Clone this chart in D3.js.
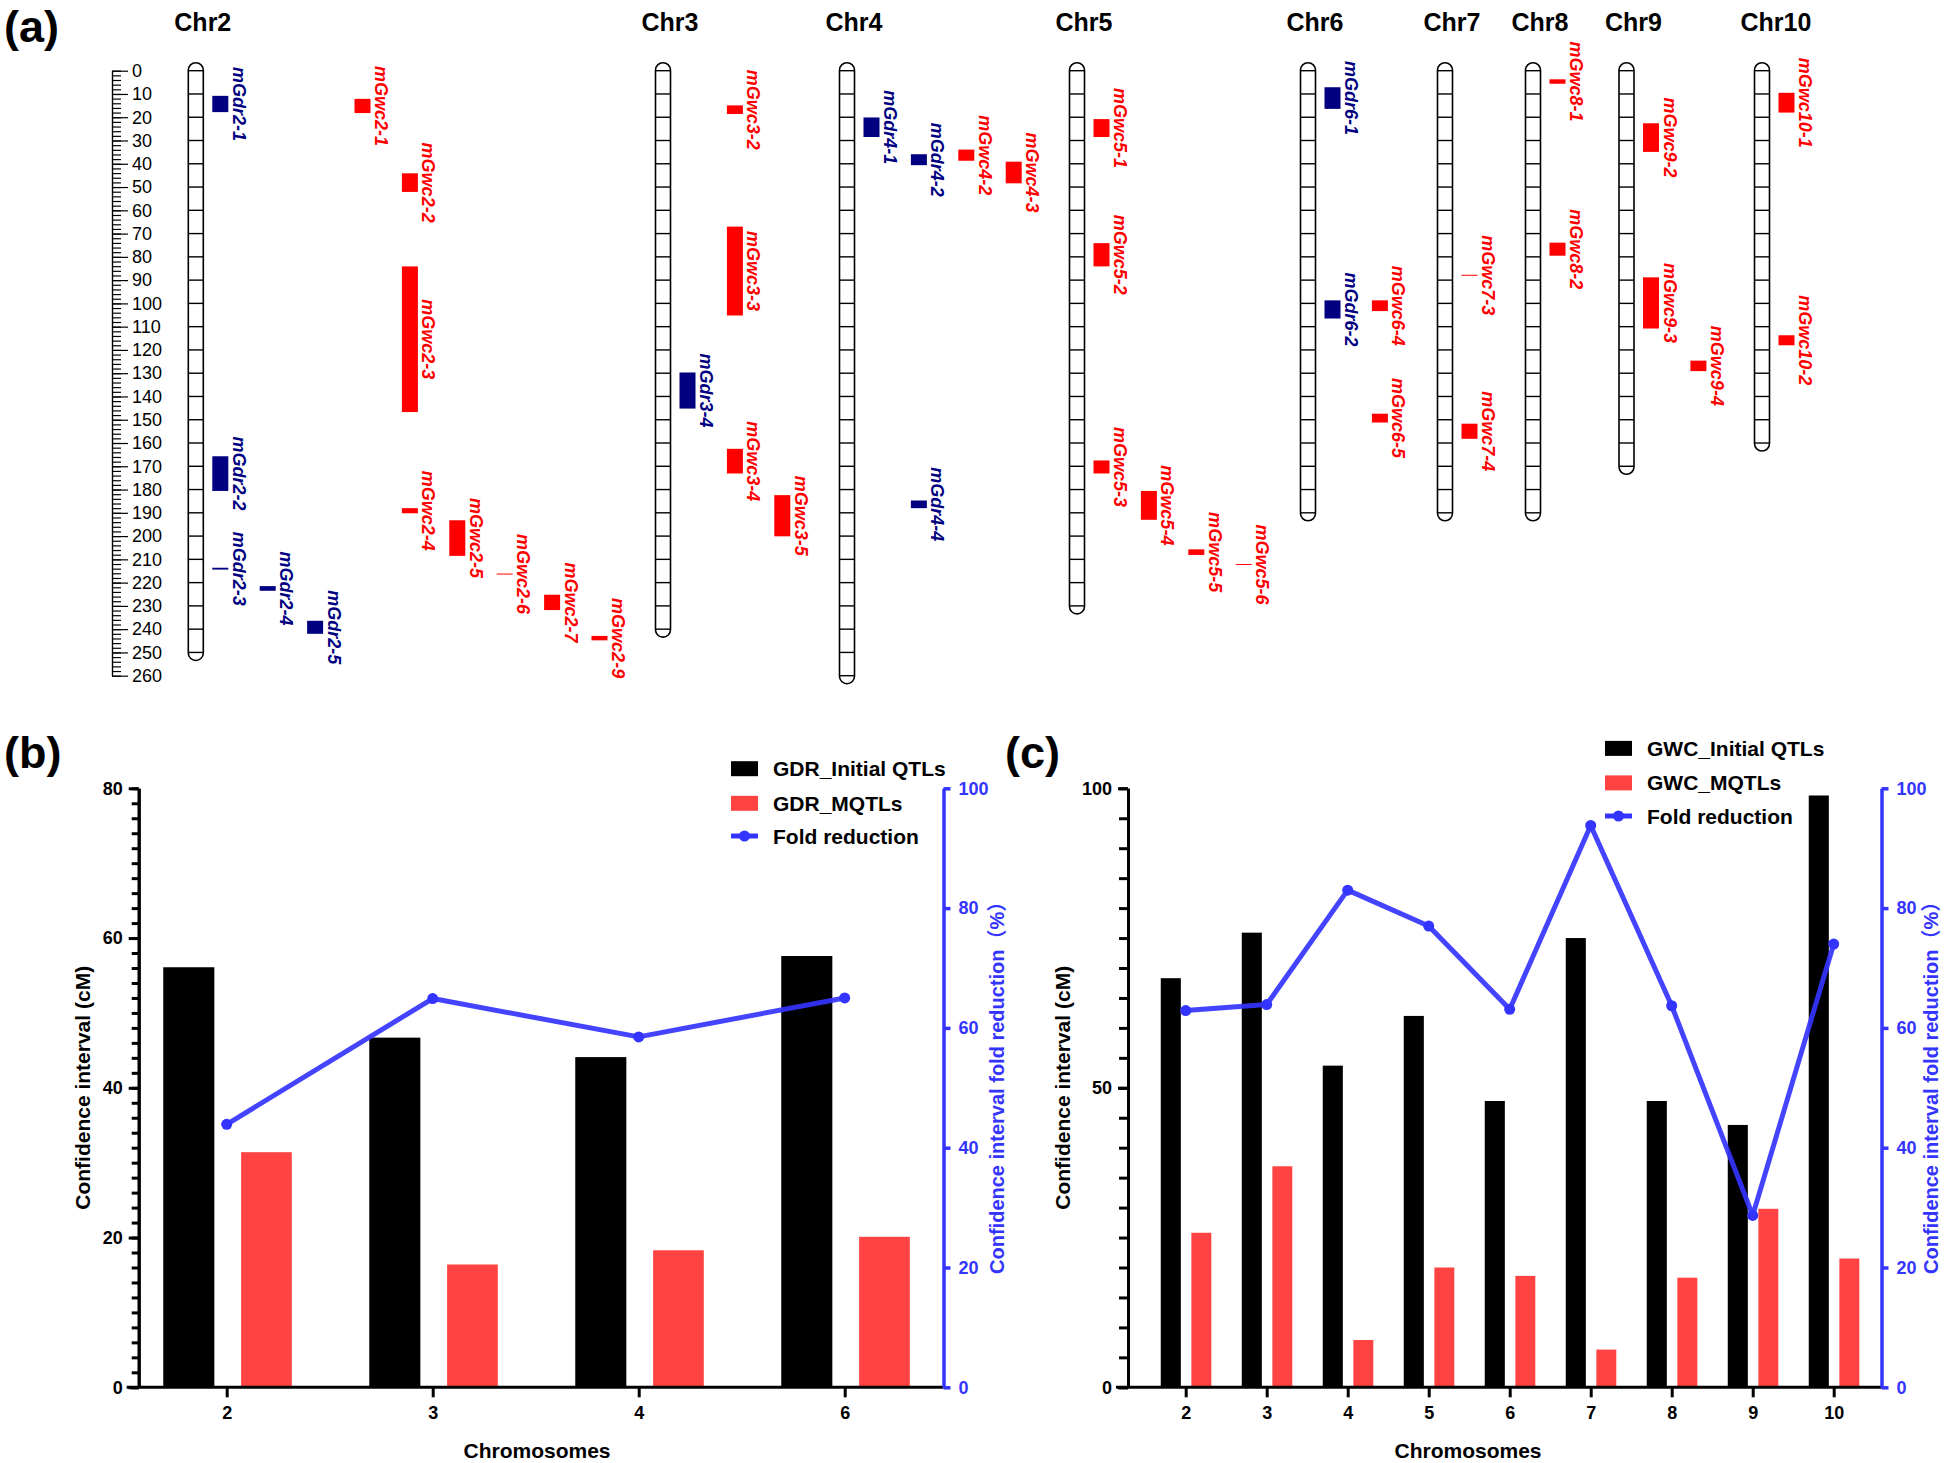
<!DOCTYPE html>
<html>
<head>
<meta charset="utf-8">
<script src="https://d3js.org/d3.v7.min.js"></script>
<style>
  body { margin: 0; background: #fff; }
  text { font-family: "Liberation Sans", Arial, "Noto Sans CJK SC", sans-serif; }
</style>
</head>
<body>
<svg id="fig"></svg>
<script>
// ---------- panel (a): chromosomes and MQTL intervals (cM) ----------
var chrNames   = ["Chr2", "Chr3", "Chr4", "Chr5", "Chr6", "Chr7", "Chr8", "Chr9", "Chr10"];
var chrLengths = [250, 240, 260, 230, 190, 190, 190, 170, 160];

var qtlNames = ["mGdr2-1", "mGdr2-2", "mGdr2-3", "mGdr2-4", "mGdr2-5",
                "mGwc2-1", "mGwc2-2", "mGwc2-3", "mGwc2-4", "mGwc2-5", "mGwc2-6", "mGwc2-7", "mGwc2-9",
                "mGwc3-2", "mGwc3-3", "mGdr3-4", "mGwc3-4", "mGwc3-5",
                "mGdr4-1", "mGdr4-2", "mGwc4-2", "mGwc4-3", "mGdr4-4",
                "mGwc5-1", "mGwc5-2", "mGwc5-3", "mGwc5-4", "mGwc5-5", "mGwc5-6",
                "mGdr6-1", "mGdr6-2", "mGwc6-4", "mGwc6-5",
                "mGwc7-3", "mGwc7-4",
                "mGwc8-1", "mGwc8-2",
                "mGwc9-2", "mGwc9-3", "mGwc9-4",
                "mGwc10-1", "mGwc10-2"];
var qtlStart = [10.8, 165.7, 213.6, 221.5, 236.4,
                12.1, 44.1, 84.1, 188.0, 193.2, 216.1, 225.2, 242.9,
                14.9, 67.0, 129.7, 162.5, 182.4,
                20.1, 35.9, 33.9, 39.1, 184.7,
                20.8, 74.1, 167.5, 180.6, 205.7, 212.0,
                7.1, 98.7, 98.7, 147.4,
                87.7, 151.7,
                3.7, 73.9,
                22.6, 88.8, 124.6,
                9.5, 113.7];
var qtlEnd   = [17.8, 180.6, 214.4, 223.5, 242.0,
                18.2, 52.1, 146.7, 190.2, 208.5, 216.5, 231.8, 244.8,
                18.6, 105.2, 145.2, 173.1, 200.1,
                28.5, 40.6, 38.7, 48.4, 188.0,
                28.5, 84.1, 173.1, 193.0, 208.1, 212.4,
                16.4, 106.5, 103.3, 151.2,
                88.1, 158.2,
                5.6, 79.5,
                34.9, 110.8, 129.1,
                18.0, 118.0];

// layout: column (lane) each interval is drawn in, right of its chromosome
var qtlLane = [0, 0, 0, 1, 2,
               3, 4, 4, 4, 5, 6, 7, 8,
               1, 1, 0, 1, 2,
               0, 1, 2, 3, 1,
               0, 0, 0, 1, 2, 3,
               0, 0, 1, 1,
               0, 0,
               0, 0,
               0, 0, 1,
               0, 0];
var chrX = [195.8, 663, 847, 1077, 1308, 1445, 1533, 1626.5, 1762];

// ---------- panel (b): GDR ----------
var gdrChr     = ["2", "3", "4", "6"];
var gdrInitial = [56.1, 46.7, 44.1, 57.6];
var gdrMqtl    = [31.4, 16.4, 18.3, 20.1];
var gdrFold    = [43.9, 64.9, 58.5, 65.0];

// ---------- panel (c): GWC ----------
var gwcChr     = ["2", "3", "4", "5", "6", "7", "8", "9", "10"];
var gwcInitial = [68.3, 75.9, 53.7, 62.0, 47.8, 75.0, 47.8, 43.8, 98.8];
var gwcMqtl    = [25.8, 36.9, 7.9, 20.0, 18.6, 6.3, 18.3, 29.8, 21.5];
var gwcFold    = [62.9, 63.9, 83.0, 77.0, 63.1, 93.8, 63.7, 28.7, 74.0];

var RED = "#ff4242", BLUE = "#3434ff", NAVY = "#000080", QRED = "#ff0000";

var svg = d3.select("#fig").attr("width", 1944).attr("height", 1463);
svg.append("rect").attr("width", 1944).attr("height", 1463).attr("fill", "#fff");

// panel letters
[["(a)", 4, 42], ["(b)", 4, 768], ["(c)", 1005, 768]].forEach(function (p) {
    svg.append("text").attr("x", p[1]).attr("y", p[2]).text(p[0])
        .attr("font-size", 45).attr("font-weight", "bold");
});

// ================= panel (a) =================
var yA = d3.scaleLinear().domain([0, 260]).range([70.7, 675.7]);
var pa = svg.append("g");

// ruler
pa.append("g").attr("transform", "translate(112,0)")
    .call(d3.axisRight(yA).tickValues(d3.range(0, 261, 2)).tickSize(9).tickFormat("").tickSizeOuter(0))
    .call(function (g) { g.selectAll("line,path").attr("stroke", "#000").attr("stroke-width", 1.2); });
pa.append("g").attr("transform", "translate(112,0)")
    .call(d3.axisRight(yA).tickValues(d3.range(0, 261, 10)).tickSize(16).tickPadding(4).tickSizeOuter(0))
    .call(function (g) {
        g.selectAll("line,path").attr("stroke", "#000").attr("stroke-width", 1.2);
        g.selectAll("text").attr("font-size", 18).attr("fill", "#000")
            .attr("font-family", "'Liberation Sans', Arial, sans-serif");
    });

// chromosomes
chrNames.forEach(function (name, i) {
    var g = pa.append("g").attr("transform", "translate(" + chrX[i] + ",0)");
    var L = chrLengths[i];
    g.append("text").attr("x", -21.5).attr("y", 31).text(name)
        .attr("font-size", 25).attr("font-weight", "bold");
    g.append("rect").attr("x", -7.5).attr("width", 15)
        .attr("y", yA(0) - 8).attr("height", yA(L) - yA(0) + 16)
        .attr("rx", 7.5).attr("ry", 7.5)
        .attr("fill", "#fff").attr("stroke", "#000").attr("stroke-width", 1.6);
    g.selectAll("line.seg").data(d3.range(0, L + 1, 10)).enter().append("line")
        .attr("x1", -7.5).attr("x2", 7.5)
        .attr("y1", function (d) { return yA(d); }).attr("y2", function (d) { return yA(d); })
        .attr("stroke", "#000").attr("stroke-width", 1.4);
});

// MQTL intervals
qtlNames.forEach(function (name, i) {
    var chr = "Chr" + name.replace(/^mG(dr|wc)/, "").split("-")[0];
    var ci = chrNames.indexOf(chr);
    var col = /^mGdr/.test(name) ? NAVY : QRED;
    var x = chrX[ci] + 16.5 + 47.4 * qtlLane[i];
    var y1 = yA(qtlStart[i]), y2 = yA(qtlEnd[i]);
    pa.append("rect").attr("x", x).attr("width", 16)
        .attr("y", y1).attr("height", Math.max(y2 - y1, 1))
        .attr("fill", col);
    pa.append("text")
        .attr("transform", "translate(" + (x + 20.5) + "," + ((y1 + y2) / 2) + ") rotate(90)")
        .attr("text-anchor", "middle")
        .attr("font-size", 18).attr("font-weight", "bold").attr("font-style", "italic")
        .attr("fill", col).text(name);
});

// ================= panels (b) and (c) =================
function comboChart(cfg) {
    var g = svg.append("g");
    var x = d3.scalePoint().domain(cfg.cats).range([cfg.firstTick, cfg.lastTick]);
    var s = x.step();
    var yL = d3.scaleLinear().domain([0, cfg.leftMax]).range([cfg.y0, cfg.yTop]);
    var yR = d3.scaleLinear().domain([0, 100]).range([cfg.y0, cfg.yTop]);

    // bars
    g.selectAll("rect.ini").data(cfg.initial).enter().append("rect")
        .attr("x", function (d, i) { return x(cfg.cats[i]) - 0.308 * s; })
        .attr("width", 0.248 * s)
        .attr("y", function (d) { return yL(d); })
        .attr("height", function (d) { return cfg.y0 - yL(d); })
        .attr("fill", "#000");
    g.selectAll("rect.mq").data(cfg.mqtl).enter().append("rect")
        .attr("x", function (d, i) { return x(cfg.cats[i]) + 0.07 * s; })
        .attr("width", 0.246 * s)
        .attr("y", function (d) { return yL(d); })
        .attr("height", function (d) { return cfg.y0 - yL(d); })
        .attr("fill", RED);

    // left axis
    g.append("g").attr("transform", "translate(" + cfg.leftX + ",0)")
        .call(d3.axisLeft(yL).tickValues(d3.range(0, cfg.leftMax + 0.01, cfg.leftMinor))
            .tickSize(cfg.minorLen).tickFormat("").tickSizeOuter(0))
        .call(function (a) { a.selectAll("line,path").attr("stroke", "#000").attr("stroke-width", 3); });
    g.append("g").attr("transform", "translate(" + cfg.leftX + ",0)")
        .call(d3.axisLeft(yL).tickValues(d3.range(0, cfg.leftMax + 0.01, cfg.leftMajor))
            .tickSize(10).tickPadding(6).tickSizeOuter(0))
        .call(function (a) {
            a.selectAll("line,path").attr("stroke", "#000").attr("stroke-width", 3);
            a.selectAll("text").attr("font-size", 18).attr("font-weight", "bold").attr("fill", "#000")
                .attr("font-family", "'Liberation Sans', Arial, sans-serif");
        });

    // x axis
    g.append("line").attr("x1", cfg.leftX - 12).attr("x2", cfg.rightX)
        .attr("y1", cfg.y0).attr("y2", cfg.y0).attr("stroke", "#000").attr("stroke-width", 3);
    g.append("g").attr("transform", "translate(0," + cfg.y0 + ")")
        .call(d3.axisBottom(x).tickSize(10).tickPadding(9).tickSizeOuter(0))
        .call(function (a) {
            a.select(".domain").remove();
            a.selectAll("line").attr("stroke", "#000").attr("stroke-width", 3);
            a.selectAll("text").attr("font-size", 18).attr("font-weight", "bold").attr("fill", "#000")
                .attr("font-family", "'Liberation Sans', Arial, sans-serif");
        });

    // right axis
    g.append("g").attr("transform", "translate(" + cfg.rightX + ",0)")
        .call(d3.axisRight(yR).tickValues(d3.range(0, 101, 20)).tickSize(7).tickPadding(8).tickSizeOuter(0))
        .call(function (a) {
            a.selectAll("line,path").attr("stroke", BLUE).attr("stroke-width", 3.5);
            a.selectAll("text").attr("font-size", 18).attr("font-weight", "bold").attr("fill", BLUE)
                .attr("font-family", "'Liberation Sans', Arial, sans-serif");
        });

    // fold reduction line
    var line = d3.line()
        .x(function (d, i) { return x(cfg.cats[i]); })
        .y(function (d) { return yR(d); });
    g.append("path").datum(cfg.fold).attr("d", line)
        .attr("fill", "none").attr("stroke", BLUE).attr("stroke-width", 5)
        .attr("stroke-linejoin", "round").attr("opacity", 0.92);
    g.selectAll("circle.pt").data(cfg.fold).enter().append("circle")
        .attr("cx", function (d, i) { return x(cfg.cats[i]); })
        .attr("cy", function (d) { return yR(d); })
        .attr("r", 5.5).attr("fill", BLUE);

    // axis titles
    var ymid = (cfg.y0 + cfg.yTop) / 2;
    g.append("text")
        .attr("transform", "translate(" + cfg.leftTitleX + "," + ymid + ") rotate(-90)")
        .attr("text-anchor", "middle").attr("dominant-baseline", "central")
        .attr("font-size", 21).attr("font-weight", "bold").text("Confidence interval (cM)");
    g.append("text")
        .attr("transform", "translate(" + cfg.rightTitleX + "," + (ymid - 5) + ") rotate(-90)")
        .attr("text-anchor", "middle").attr("dominant-baseline", "central")
        .attr("font-size", 20).attr("font-weight", "bold").attr("fill", BLUE)
        .text("Confidence interval fold reduction（%）");
    g.append("text").attr("x", cfg.xTitleX).attr("y", 1458)
        .attr("text-anchor", "middle")
        .attr("font-size", 21).attr("font-weight", "bold").text("Chromosomes");

    // legend
    var lg = g.append("g").attr("transform", "translate(" + cfg.legX + ",0)");
    lg.append("rect").attr("x", 0).attr("y", cfg.legY[0] - 7.5).attr("width", 27).attr("height", 15).attr("fill", "#000");
    lg.append("rect").attr("x", 0).attr("y", cfg.legY[1] - 7.5).attr("width", 27).attr("height", 15).attr("fill", RED);
    lg.append("line").attr("x1", 0).attr("x2", 27).attr("y1", cfg.legY[2]).attr("y2", cfg.legY[2])
        .attr("stroke", BLUE).attr("stroke-width", 5);
    lg.append("circle").attr("cx", 13.5).attr("cy", cfg.legY[2]).attr("r", 5.5).attr("fill", BLUE);
    cfg.legText.forEach(function (t, i) {
        lg.append("text").attr("x", 42).attr("y", cfg.legY[i]).attr("dominant-baseline", "central")
            .attr("font-size", 21).attr("font-weight", "bold").text(t);
    });
}

comboChart({
    cats: gdrChr, initial: gdrInitial, mqtl: gdrMqtl, fold: gdrFold,
    leftMax: 80, leftMajor: 20, leftMinor: 2, minorLen: 7,
    leftX: 138.7, rightX: 943.5, firstTick: 226.7, lastTick: 844.7,
    y0: 1387.3, yTop: 788.3,
    leftTitleX: 82, rightTitleX: 997, xTitleX: 537,
    legX: 731, legY: [768.7, 803.3, 836],
    legText: ["GDR_Initial QTLs", "GDR_MQTLs", "Fold reduction"]
});

comboChart({
    cats: gwcChr, initial: gwcInitial, mqtl: gwcMqtl, fold: gwcFold,
    leftMax: 100, leftMajor: 50, leftMinor: 5, minorLen: 9,
    leftX: 1128, rightX: 1881.5, firstTick: 1185.7, lastTick: 1833.7,
    y0: 1387.3, yTop: 788.3,
    leftTitleX: 1062, rightTitleX: 1931, xTitleX: 1468,
    legX: 1605, legY: [748.4, 782.9, 816],
    legText: ["GWC_Initial QTLs", "GWC_MQTLs", "Fold reduction"]
});
</script>
</body>
</html>
